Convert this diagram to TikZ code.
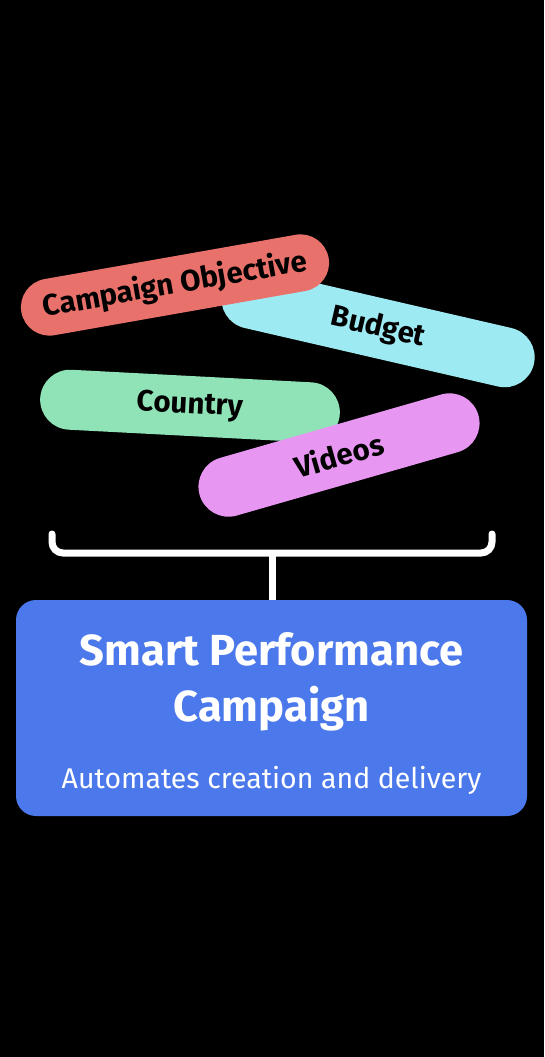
\documentclass[tikz,border=0pt]{standalone}
\usepackage{fontspec}
\setmainfont{Fira Sans}
\usetikzlibrary{positioning,shapes.misc}
\definecolor{spcRed}{HTML}{E9716B}
\definecolor{spcCyan}{HTML}{9EEAF2}
\definecolor{spcGreen}{HTML}{8FE3B7}
\definecolor{spcViolet}{HTML}{E796F2}
\definecolor{spcBlue}{HTML}{4B78EA}

\begin{document}
\begin{tikzpicture}[x=1pt,y=-1pt,
   pill/.style={rounded rectangle,minimum height=60pt,inner sep=0pt,
                font=\fontsize{29.5}{33}\selectfont\bfseries,text=black},
   brace/.style={draw=white,line width=7pt,rounded corners=11pt,line cap=round}]
  \fill[black] (0,0) rectangle (544,1057);
  \useasboundingbox (0,0) rectangle (544,1057);
  % input pills
  \node[pill,fill=spcCyan,minimum width=320pt,rotate=-13] (budget) at (378,328) {Budget};
  \node[pill,fill=spcRed,minimum width=312pt,minimum height=57pt,rotate=10] (objective) at (175,285) {Campaign Objective};
  \node[pill,fill=spcGreen,minimum width=300pt,rotate=-3] (country) at (190,406) {Country};
  \node[pill,fill=spcViolet,minimum width=290pt,rotate=16] (videos) at (339,455) {Videos};
  % campaign box
  \node[fill=spcBlue,rounded corners=20pt,minimum width=511pt,minimum height=216pt] (spc) at (271.5,708) {};
  \node[anchor=base,text=white,font=\fontsize{43.5}{50}\selectfont\bfseries] (title1) at (271.5,665) {Smart Performance};
  \node[anchor=base,text=white,font=\fontsize{43.5}{50}\selectfont\bfseries] (title2) at (271.5,721) {Campaign};
  \node[anchor=base,text=white,font=\fontsize{28.5}{34}\selectfont] (sub) at (271.5,788) {Automates creation and delivery};
  % bracket
  \coordinate (bl) at (52,534);
  \coordinate (br) at (492,534);
  \coordinate (bm) at (272,553);
  \draw[brace] (bl) |- (bm) -| (br);
  \draw[draw=white,line width=7pt] (bm) -- (bm |- spc.north);
\end{tikzpicture}
\end{document}
